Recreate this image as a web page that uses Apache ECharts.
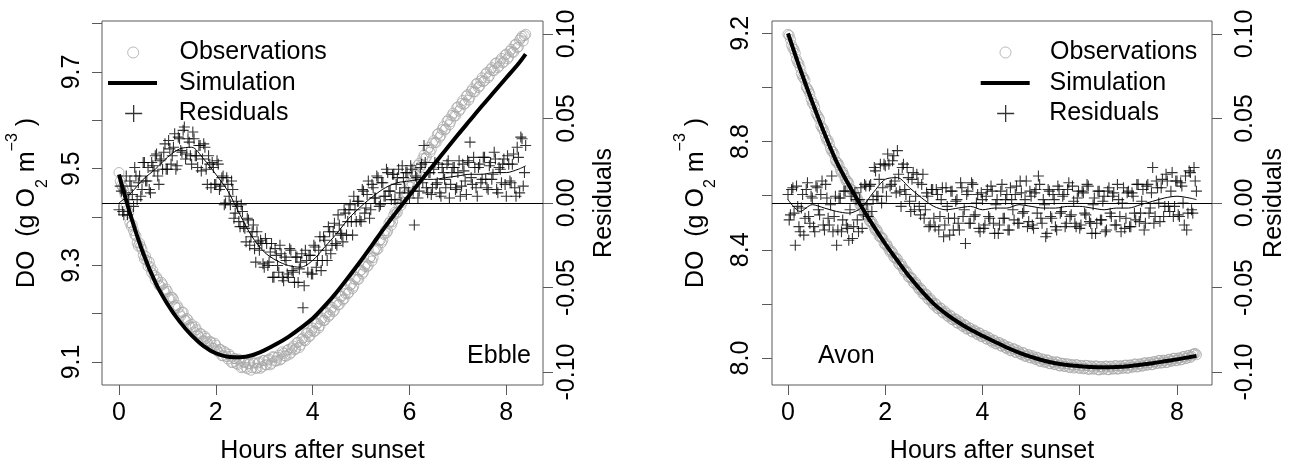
<!DOCTYPE html>
<html><head><meta charset="utf-8">
<script src="https://cdn.jsdelivr.net/npm/echarts@6/dist/echarts.min.js"></script>
<style>html,body{margin:0;padding:0;background:#fff}#c{width:1301px;height:468px}</style>
</head><body><div id="c"></div>
<script>
// ---------- data ----------
const hours = [0,0.05,0.1,0.15,0.2,0.25,0.3,0.35,0.4,0.45,0.5,0.55,0.6,0.65,0.7,0.75,0.8,0.85,0.9,0.95,
1,1.05,1.1,1.15,1.2,1.25,1.3,1.35,1.4,1.45,1.5,1.55,1.6,1.65,1.7,1.75,1.8,1.85,1.9,1.95,
2,2.05,2.1,2.15,2.2,2.25,2.3,2.35,2.4,2.45,2.5,2.55,2.6,2.65,2.7,2.75,2.8,2.85,2.9,2.95,
3,3.05,3.1,3.15,3.2,3.25,3.3,3.35,3.4,3.45,3.5,3.55,3.6,3.65,3.7,3.75,3.8,3.85,3.9,3.95,
4,4.05,4.1,4.15,4.2,4.25,4.3,4.35,4.4,4.45,4.5,4.55,4.6,4.65,4.7,4.75,4.8,4.85,4.9,4.95,
5,5.05,5.1,5.15,5.2,5.25,5.3,5.35,5.4,5.45,5.5,5.55,5.6,5.65,5.7,5.75,5.8,5.85,5.9,5.95,
6,6.05,6.1,6.15,6.2,6.25,6.3,6.35,6.4,6.45,6.5,6.55,6.6,6.65,6.7,6.75,6.8,6.85,6.9,6.95,
7,7.05,7.1,7.15,7.2,7.25,7.3,7.35,7.4,7.45,7.5,7.55,7.6,7.65,7.7,7.75,7.8,7.85,7.9,7.95,
8,8.05,8.1,8.15,8.2,8.25,8.3,8.35,8.4];

const hours2 = [0.025,0.075,0.125,0.175,0.225,0.275,0.325,0.375,0.425,0.475,0.525,0.575,0.625,0.675,0.725,0.775,0.825,0.875,0.925,0.975,
1.025,1.075,1.125,1.175,1.225,1.275,1.325,1.375,1.425,1.475,1.525,1.575,1.625,1.675,1.725,1.775,1.825,1.875,1.925,1.975,
2.025,2.075,2.125,2.175,2.225,2.275,2.325,2.375,2.425,2.475,2.525,2.575,2.625,2.675,2.725,2.775,2.825,2.875,2.925,2.975,
3.025,3.075,3.125,3.175,3.225,3.275,3.325,3.375,3.425,3.475,3.525,3.575,3.625,3.675,3.725,3.775,3.825,3.875,3.925,3.975,
4.025,4.075,4.125,4.175,4.225,4.275,4.325,4.375,4.425,4.475,4.525,4.575,4.625,4.675,4.725,4.775,4.825,4.875,4.925,4.975,
5.025,5.075,5.125,5.175,5.225,5.275,5.325,5.375,5.425,5.475,5.525,5.575,5.625,5.675,5.725,5.775,5.825,5.875,5.925,5.975,
6.025,6.075,6.125,6.175,6.225,6.275,6.325,6.375,6.425,6.475,6.525,6.575,6.625,6.675,6.725,6.775,6.825,6.875,6.925,6.975,
7.025,7.075,7.125,7.175,7.225,7.275,7.325,7.375,7.425,7.475,7.525,7.575,7.625,7.675,7.725,7.775,7.825,7.875,7.925,7.975,
8.025,8.075,8.125,8.175,8.225,8.275,8.325,8.375];

const ebbleObs = [9.492,9.466,9.455,9.423,9.409,9.381,9.372,9.361,9.340,9.339,
9.321,9.319,9.298,9.297,9.289,9.270,9.271,9.257,9.260,9.244,
9.246,9.231,9.234,9.216,9.217,9.200,9.203,9.187,9.190,9.175,
9.178,9.162,9.167,9.153,9.158,9.144,9.149,9.136,9.141,9.128,
9.135,9.121,9.126,9.113,9.119,9.106,9.112,9.099,9.107,9.095,
9.102,9.090,9.099,9.086,9.097,9.088,9.098,9.087,9.100,9.090,
9.103,9.094,9.106,9.097,9.110,9.102,9.114,9.106,9.118,9.112,
9.126,9.119,9.133,9.127,9.141,9.135,9.150,9.144,9.160,9.155,
9.170,9.164,9.180,9.175,9.191,9.186,9.202,9.197,9.213,9.207,
9.224,9.219,9.236,9.231,9.249,9.244,9.261,9.257,9.275,9.271,
9.290,9.286,9.303,9.300,9.318,9.316,9.335,9.334,9.353,9.352,
9.372,9.371,9.391,9.390,9.410,9.410,9.430,9.430,9.451,9.449,
9.470,9.470,9.491,9.490,9.511,9.508,9.528,9.524,9.544,9.540,
9.558,9.554,9.573,9.569,9.587,9.582,9.601,9.597,9.615,9.609,
9.628,9.623,9.641,9.635,9.653,9.648,9.665,9.659,9.677,9.671,
9.688,9.682,9.699,9.692,9.709,9.703,9.719,9.712,9.728,9.721,
9.737,9.731,9.747,9.741,9.758,9.752,9.770,9.764,9.778];

const ebbleObs2 = [9.474,9.462,9.446,9.413,9.388,9.384,9.364,9.347,9.346,9.333,
9.313,9.310,9.307,9.285,9.279,9.276,9.259,9.265,9.249,9.251,
9.231,9.234,9.230,9.213,9.212,9.195,9.203,9.186,9.187,9.171,
9.172,9.173,9.156,9.159,9.143,9.153,9.140,9.143,9.129,9.139,
9.124,9.126,9.113,9.122,9.111,9.116,9.099,9.107,9.097,9.106,
9.088,9.100,9.089,9.096,9.083,9.098,9.087,9.098,9.087,9.103,
9.094,9.104,9.094,9.111,9.102,9.110,9.104,9.121,9.113,9.124,
9.116,9.129,9.125,9.140,9.130,9.147,9.145,9.160,9.152,9.165,
9.163,9.179,9.170,9.187,9.186,9.201,9.194,9.208,9.204,9.221,
9.218,9.236,9.228,9.242,9.241,9.259,9.252,9.271,9.271,9.288,
9.282,9.298,9.297,9.315,9.309,9.330,9.332,9.351,9.347,9.364,
9.367,9.387,9.383,9.404,9.407,9.427,9.424,9.443,9.445,9.466,
9.462,9.485,9.488,9.507,9.503,9.521,9.521,9.540,9.534,9.553,
9.554,9.571,9.565,9.581,9.580,9.598,9.591,9.610,9.609,9.626,
9.619,9.635,9.633,9.650,9.642,9.660,9.659,9.675,9.668,9.682,
9.680,9.696,9.688,9.705,9.703,9.718,9.709,9.723,9.719,9.735,
9.727,9.743,9.741,9.756,9.750,9.766,9.774,9.775];

const ebbleRes = [-0.004,0.007,-0.007,0.016,0.002,0.010,-0.002,0.016,0.012,0.004,
0.024,0.013,0.021,0.006,0.022,0.028,0.016,0.025,0.020,0.035,
0.020,0.032,0.028,0.041,0.022,0.038,0.030,0.045,0.029,0.036,
0.023,0.038,0.028,0.034,0.019,0.035,0.020,0.028,0.009,0.021,
0.011,0.023,0.010,0.016,0.000,0.011,-0.001,0.008,-0.006,-0.002,
-0.014,-0.005,-0.015,-0.009,-0.025,-0.017,-0.027,-0.017,-0.028,-0.024,
-0.038,-0.024,-0.035,-0.024,-0.044,-0.031,-0.041,-0.030,-0.046,-0.034,
-0.044,-0.028,-0.041,-0.032,-0.047,-0.035,-0.062,-0.028,-0.041,-0.031,
-0.042,-0.026,-0.034,-0.020,-0.034,-0.022,-0.034,-0.017,-0.025,-0.012,
-0.025,-0.013,-0.019,-0.004,-0.019,-0.004,-0.011,0.004,-0.011,0.001,
-0.011,0.007,-0.003,0.013,-0.004,0.009,0.003,0.015,-0.001,0.012,
0.004,0.018,0.007,0.017,0.002,0.015,0.006,0.022,0.009,0.018,
0.003,0.020,-0.013,0.015,0.007,0.023,0.034,0.009,0.018,0.005,
0.020,0.011,0.023,0.004,0.018,0.009,0.025,0.011,0.021,0.008,
0.018,0.004,0.023,0.013,0.025,0.036,0.011,0.021,0.004,0.023,
0.014,0.027,0.009,0.022,0.014,0.030,0.008,0.021,0.012,0.026,
0.004,0.023,0.012,0.029,0.004,0.027,0.039,0.010,0.034];

const ebbleRes2 = [0.010,-0.005,0.006,-0.007,0.013,0.005,0.021,0.002,0.016,0.008,
0.024,0.013,0.008,0.024,0.019,0.029,0.011,0.026,0.030,0.020,
0.037,0.023,0.033,0.020,0.039,0.031,0.043,0.026,0.038,0.028,
0.042,0.028,0.021,0.034,0.026,0.033,0.011,0.023,0.024,0.011,
0.025,0.008,0.015,-0.001,0.015,0.004,0.013,-0.009,0.001,-0.011,
-0.001,-0.014,-0.023,-0.010,-0.020,-0.013,-0.035,-0.023,-0.022,-0.036,
-0.021,-0.037,-0.029,-0.044,-0.027,-0.037,-0.025,-0.044,-0.032,-0.042,
-0.027,-0.040,-0.047,-0.032,-0.039,-0.030,-0.049,-0.034,-0.031,-0.042,
-0.025,-0.038,-0.028,-0.040,-0.020,-0.028,-0.014,-0.030,-0.017,-0.024,
-0.007,-0.018,-0.023,-0.006,-0.011,-0.001,-0.019,-0.004,0.001,-0.010,
0.008,-0.006,0.005,-0.009,0.011,0.003,0.016,-0.002,0.012,0.004,
0.020,0.007,0.002,0.017,0.011,0.020,0.000,0.015,0.018,0.006,
0.022,0.007,0.016,0.003,0.021,0.012,0.024,0.006,0.018,0.009,
0.024,0.012,0.006,0.021,0.014,0.023,0.003,0.018,0.021,0.009,
0.025,0.010,0.019,0.005,0.024,0.015,0.027,0.009,0.021,0.012,
0.027,0.014,0.008,0.024,0.017,0.026,0.006,0.020,0.023,0.011,
0.028,0.013,0.023,0.009,0.033,0.006,0.038,0.018];

const avonObs = [9.196,9.177,9.144,9.126,9.092,9.073,9.039,9.026,8.995,8.976,
8.942,8.927,8.897,8.882,8.849,8.833,8.804,8.792,8.764,8.752,
8.723,8.712,8.686,8.677,8.653,8.646,8.622,8.613,8.589,8.581,
8.561,8.554,8.530,8.524,8.502,8.494,8.471,8.466,8.447,8.442,
8.418,8.413,8.392,8.389,8.369,8.366,8.344,8.339,8.319,8.316,
8.298,8.294,8.275,8.271,8.253,8.251,8.235,8.234,8.215,8.212,
8.195,8.197,8.182,8.183,8.166,8.166,8.152,8.155,8.141,8.144,
8.128,8.130,8.116,8.120,8.108,8.110,8.096,8.099,8.086,8.091,
8.079,8.083,8.069,8.072,8.058,8.064,8.053,8.057,8.043,8.046,
8.034,8.039,8.028,8.034,8.020,8.023,8.012,8.018,8.007,8.012,
8.000,8.004,7.994,8.000,7.988,7.994,7.985,7.992,7.979,7.985,
7.976,7.984,7.971,7.980,7.969,7.978,7.965,7.974,7.966,7.974,
7.962,7.971,7.962,7.972,7.959,7.969,7.960,7.970,7.956,7.968,
7.960,7.970,7.957,7.969,7.960,7.971,7.960,7.971,7.963,7.974,
7.963,7.974,7.967,7.977,7.968,7.978,7.971,7.982,7.975,7.983,
7.976,7.986,7.981,7.991,7.983,7.991,7.984,7.995,7.989,7.999,
7.991,8.000,7.994,8.006,7.999,8.010,8.007,8.015,8.012];

const avonObs2 = [9.192,9.156,9.140,9.104,9.088,9.051,9.035,9.001,8.987,8.956,
8.940,8.906,8.891,8.859,8.847,8.817,8.805,8.774,8.762,8.730,
8.721,8.695,8.689,8.663,8.654,8.627,8.621,8.597,8.592,8.568,
8.561,8.535,8.531,8.507,8.504,8.480,8.475,8.450,8.447,8.424,
8.422,8.401,8.396,8.373,8.370,8.349,8.348,8.327,8.323,8.300,
8.299,8.279,8.280,8.260,8.258,8.237,8.237,8.219,8.220,8.202,
8.202,8.183,8.186,8.169,8.173,8.157,8.159,8.142,8.145,8.130,
8.136,8.121,8.124,8.107,8.112,8.098,8.104,8.091,8.094,8.079,
8.084,8.071,8.077,8.064,8.067,8.052,8.058,8.045,8.051,8.038,
8.042,8.027,8.034,8.021,8.028,8.016,8.021,8.006,8.013,8.001,
8.009,7.997,8.003,7.988,7.997,7.984,7.993,7.979,7.987,7.976,
7.986,7.971,7.981,7.969,7.979,7.966,7.976,7.963,7.976,7.963,
7.973,7.960,7.973,7.958,7.971,7.959,7.971,7.957,7.969,7.958,
7.970,7.957,7.970,7.959,7.972,7.959,7.971,7.962,7.973,7.962,
7.974,7.966,7.978,7.967,7.978,7.970,7.982,7.973,7.984,7.975,
7.987,7.979,7.991,7.981,7.992,7.983,7.995,7.988,7.999,7.990,
8.000,7.993,8.005,7.998,8.009,8.002,8.014,8.017];

const avonRes = [0.005,-0.007,0.009,-0.025,-0.002,-0.017,0.005,-0.009,0.012,-0.012,
0.003,-0.017,0.009,-0.007,0.013,-0.016,0.003,-0.013,0.016,-0.008,
-0.025,0.003,-0.017,0.007,-0.013,-0.022,0.004,-0.014,0.002,-0.017,
0.009,-0.007,0.010,-0.008,0.011,0.002,0.019,0.004,0.023,0.009,
0.022,0.029,0.010,0.025,0.013,0.031,0.007,0.021,0.008,0.021,
0.001,0.014,-0.004,0.017,-0.002,0.011,-0.009,0.006,-0.014,0.008,
-0.009,0.008,-0.016,0.002,-0.020,0.009,-0.009,0.007,-0.016,0.001,
-0.012,0.012,-0.008,-0.024,0.007,-0.012,0.011,-0.007,0.005,-0.017,
0.002,-0.013,0.008,-0.009,0.007,-0.018,0.002,-0.013,0.011,-0.009,
0.005,-0.016,0.002,-0.010,0.010,-0.012,0.006,-0.005,0.013,-0.011,
0.004,-0.015,0.008,0.016,-0.009,0.002,-0.020,0.008,-0.008,0.005,
-0.014,0.010,-0.006,0.004,-0.014,0.008,-0.008,0.010,-0.012,0.003,
-0.015,0.007,-0.006,0.011,-0.011,-0.018,0.003,-0.012,0.007,-0.010,
0.004,-0.016,0.009,-0.008,0.006,-0.013,0.002,-0.017,0.009,-0.009,
0.007,-0.014,0.004,-0.010,0.011,-0.006,0.008,-0.012,0.011,-0.003,
0.021,-0.008,0.009,-0.011,0.014,-0.002,0.013,-0.005,0.018,-0.002,
0.013,-0.008,0.010,-0.013,-0.016,0.019,-0.004,0.021,0.007];

const avonRes2 = [-0.010,0.008,-0.006,0.010,-0.014,-0.003,-0.019,0.008,-0.008,0.004,
-0.014,0.010,-0.004,0.005,-0.013,0.011,-0.009,-0.001,-0.017,0.004,
-0.016,0.003,-0.010,0.007,-0.015,-0.004,-0.021,0.006,-0.010,0.002,
-0.015,0.011,-0.001,0.010,-0.005,0.021,0.004,0.014,0.000,0.023,
0.004,0.023,0.011,0.028,0.006,0.017,-0.002,0.023,0.005,0.015,
-0.005,0.018,0.004,0.012,-0.007,0.017,-0.004,0.004,-0.013,0.008,
-0.014,0.005,-0.008,0.009,-0.013,-0.002,-0.019,0.007,-0.009,0.002,
-0.016,0.009,-0.004,0.005,-0.012,0.012,-0.008,0.000,-0.015,0.006,
-0.015,0.004,-0.008,0.010,-0.012,-0.001,-0.018,0.007,-0.009,0.002,
-0.016,0.009,-0.004,0.005,-0.012,0.013,-0.006,0.002,-0.014,0.007,
-0.013,0.006,-0.006,0.011,-0.012,-0.001,-0.018,0.007,-0.009,0.002,
-0.016,0.008,-0.005,0.005,-0.012,0.012,-0.007,0.001,-0.014,0.007,
-0.013,0.006,-0.007,0.010,-0.012,-0.001,-0.018,0.007,-0.010,0.001,
-0.017,0.007,-0.006,0.004,-0.013,0.011,-0.008,0.000,-0.015,0.006,
-0.014,0.006,-0.006,0.011,-0.011,0.001,-0.016,0.010,-0.006,0.006,
-0.012,0.013,0.000,0.009,-0.008,0.017,-0.002,0.007,-0.008,0.013,
-0.007,0.012,0.000,0.016,-0.006,0.018,-0.006,0.013];

const simHours = [0,0.25,0.5,0.75,1,1.25,1.5,1.75,2,2.25,2.5,2.75,3,3.25,3.5,3.75,4,4.25,4.5,4.75,5,5.25,5.5,5.75,6,6.25,6.5,6.75,7,7.25,7.5,7.75,8,8.25,8.4];
const ebbleSim = [9.488,9.400,9.325,9.265,9.220,9.184,9.155,9.133,9.118,9.111,9.110,9.114,9.124,9.137,9.152,9.170,9.190,9.216,9.245,9.277,9.310,9.345,9.380,9.413,9.445,9.477,9.508,9.539,9.570,9.600,9.630,9.659,9.688,9.717,9.737];
const avonSim = [9.200,9.068,8.945,8.830,8.725,8.640,8.563,8.490,8.422,8.360,8.300,8.247,8.200,8.163,8.132,8.105,8.082,8.060,8.039,8.020,8.004,7.991,7.981,7.974,7.970,7.967,7.966,7.967,7.970,7.975,7.981,7.988,7.995,8.003,8.008];
const ebbleTrend = [0.000,0.006,0.014,0.020,0.027,0.032,0.033,0.026,0.017,0.007,-0.007,-0.020,-0.029,-0.034,-0.037,-0.038,-0.034,-0.026,-0.018,-0.009,-0.002,0.004,0.009,0.012,0.013,0.014,0.014,0.015,0.016,0.017,0.017,0.018,0.018,0.020,0.022];
const avonTrend = [0.002,-0.005,-0.001,-0.003,-0.005,-0.006,-0.003,0.006,0.014,0.015,0.009,0.003,-0.002,-0.004,-0.003,-0.002,-0.004,-0.003,-0.003,-0.001,-0.002,-0.003,-0.003,-0.002,-0.002,-0.003,-0.004,-0.003,-0.003,-0.001,0.001,0.003,0.004,0.003,0.002];

const xTicks = [0,2,4,6,8];
const ebbleDoTicks = [9.1,9.2,9.3,9.4,9.5,9.6,9.7,9.8];
const ebbleDoLabels = [9.1,9.3,9.5,9.7];
const avonDoTicks = [8.0,8.2,8.4,8.6,8.8,9.0,9.2];
const avonDoLabels = [8.0,8.4,8.8,9.2];
const resTicks = [-0.1,-0.05,0,0.05,0.1];
const panelNames = ['Ebble','Avon'];

// ---------- styling ----------
const FONT = 'Liberation Sans, Arial, Helvetica, sans-serif';
const BOX = '#5a5a5a';
const GREY = '#a8a8a8';
const PLUS = 'path://M5,0L5,10M0,5L10,5';
const pairs = (xs, ys) => xs.map((x, i) => [x, ys[i]]);

const doName = '{a|DO  (g O}{sub|2}{a| m}{sup|\u22123}{a| )}';
const doRich = {
  a: {fontSize: 25, lineHeight: 46, verticalAlign: 'middle', fontFamily: FONT, color: '#000'},
  sub: {fontSize: 16, lineHeight: 30, verticalAlign: 'bottom', fontFamily: FONT, color: '#000'},
  sup: {fontSize: 16, lineHeight: 16, verticalAlign: 'top', fontFamily: FONT, color: '#000'}
};

function xAxisCfg(grid, min, max) {
  return {
    gridIndex: grid, type: 'value', min: min, max: max,
    axisLine: {show: false, onZero: false},
    axisTick: {show: true, length: 10, lineStyle: {color: BOX, width: 1}, customValues: xTicks},
    axisLabel: {customValues: xTicks, margin: 15.5, fontSize: 25, color: '#000', fontFamily: FONT},
    splitLine: {show: false},
    name: 'Hours after sunset', nameLocation: 'middle', nameGap: 53.5,
    nameTextStyle: {fontSize: 25, color: '#000', fontFamily: FONT}
  };
}
function yAxisCfg(grid, pos, min, max, ticks, labels, dec, margin, name, nameGap, rich) {
  return {
    gridIndex: grid, type: 'value', position: pos, min: min, max: max,
    axisLine: {show: false, onZero: false},
    axisTick: {show: true, length: 10, lineStyle: {color: BOX, width: 1}, customValues: ticks},
    axisLabel: {customValues: labels, rotate: 90, margin: margin, fontSize: 25, color: '#000', fontFamily: FONT,
                formatter: v => Number(v).toFixed(dec)},
    splitLine: {show: false},
    name: name, nameLocation: 'middle', nameRotate: 90, nameGap: nameGap,
    nameTextStyle: Object.assign({fontSize: 25, color: '#000', fontFamily: FONT}, rich ? {rich: rich} : {})
  };
}
function panelSeries(p, obs, obs2, sim, res, res2, trend) {
  return [
    {type: 'scatter', name: 'Observations', xAxisIndex: p, yAxisIndex: 2 * p,
     data: pairs(hours, obs).concat(pairs(hours2, obs2)),
     symbol: 'circle', symbolSize: 10, silent: true,
     itemStyle: {color: 'rgba(0,0,0,0)', borderColor: GREY, borderWidth: 1}},
    {type: 'line', name: 'Simulation', xAxisIndex: p, yAxisIndex: 2 * p, data: pairs(simHours, sim),
     symbol: 'none', showSymbol: false, smooth: 0.3, silent: true,
     lineStyle: {color: '#000', width: 4}, itemStyle: {color: '#000'}},
    {type: 'scatter', name: 'Residuals', xAxisIndex: p, yAxisIndex: 2 * p + 1,
     data: pairs(hours, res).concat(pairs(hours2, res2)),
     symbol: PLUS, symbolSize: 11, symbolKeepAspect: true, silent: true,
     itemStyle: {color: 'rgba(0,0,0,0)', borderColor: '#000', borderWidth: 1.1}},
    {type: 'line', name: 'Residual trend', xAxisIndex: p, yAxisIndex: 2 * p + 1, data: pairs(simHours, trend),
     symbol: 'none', showSymbol: false, smooth: 0.3, silent: true,
     lineStyle: {color: '#000', width: 1}, itemStyle: {color: '#000'},
     markLine: {silent: true, symbol: 'none', animation: false, label: {show: false},
                lineStyle: {color: '#000', width: 1, type: 'solid'}, emphasis: {disabled: true},
                data: [{yAxis: 0}]}}
  ];
}
function legendCfg(left, top, name, iw, ih, icon, style, pad) {
  return {
    orient: 'vertical', left: left, top: top, padding: 0, itemWidth: iw, itemHeight: ih,
    selectedMode: false, symbolKeepAspect: true,
    textStyle: {fontSize: 25, color: '#000', fontFamily: FONT, padding: [0, 0, 0, pad]},
    data: [{name: name, icon: icon, itemStyle: style}]
  };
}
const obsLegStyle = {color: 'rgba(0,0,0,0)', borderColor: GREY, borderWidth: 1};
const simLegStyle = {color: '#000', borderWidth: 0};
const resLegStyle = {color: 'rgba(0,0,0,0)', borderColor: '#000', borderWidth: 1.3};

const option = {
  animation: false,
  backgroundColor: '#fff',
  textStyle: {fontFamily: FONT},
  grid: [
    {left: 102, top: 21, width: 441, height: 364, show: true, borderColor: BOX, borderWidth: 1,
     backgroundColor: 'rgba(0,0,0,0)', containLabel: false, outerBoundsMode: 'none'},
    {left: 772, top: 21, width: 440, height: 364, show: true, borderColor: BOX, borderWidth: 1,
     backgroundColor: 'rgba(0,0,0,0)', containLabel: false, outerBoundsMode: 'none'}
  ],
  xAxis: [xAxisCfg(0, -0.351, 8.758), xAxisCfg(1, -0.329, 8.72)],
  yAxis: [
    yAxisCfg(0, 'left', 9.0524, 9.8055, ebbleDoTicks, ebbleDoLabels, 1, 17.5, doName, 51.5, doRich),
    yAxisCfg(0, 'right', -0.1077, 0.1077, resTicks, resTicks, 2, 12, 'Residuals', 48.5, null),
    yAxisCfg(1, 'left', 7.9003, 9.2454, avonDoTicks, avonDoLabels, 1, 18.5, doName, 53, doRich),
    yAxisCfg(1, 'right', -0.1077, 0.1077, resTicks, resTicks, 2, 21, 'Residuals', 50, null)
  ],
  legend: [
    legendCfg(127.2, 40, 'Observations', 49, 11, 'circle', obsLegStyle, 16.8),
    legendCfg(108, 70.5, 'Simulation', 49, 4, 'rect', simLegStyle, 17),
    legendCfg(124.5, 101, 'Residuals', 49, 17, PLUS, resLegStyle, 15.5),
    legendCfg(999.5, 40, 'Observations', 49, 11, 'circle', obsLegStyle, 15),
    legendCfg(980.7, 70.5, 'Simulation', 49, 4, 'rect', simLegStyle, 14.8),
    legendCfg(996.5, 101, 'Residuals', 49, 17, PLUS, resLegStyle, 14)
  ],
  title: [
    {text: panelNames[0], right: 770, top: 343.5, padding: 0,
     textStyle: {fontSize: 25, fontWeight: 'normal', color: '#000', fontFamily: FONT}},
    {text: panelNames[1], left: 818, top: 343.5, padding: 0,
     textStyle: {fontSize: 25, fontWeight: 'normal', color: '#000', fontFamily: FONT}}
  ],
  series: [].concat(
    panelSeries(0, ebbleObs, ebbleObs2, ebbleSim, ebbleRes, ebbleRes2, ebbleTrend),
    panelSeries(1, avonObs, avonObs2, avonSim, avonRes, avonRes2, avonTrend)
  )
};
const chart = echarts.init(document.getElementById('c'), null, {renderer: 'canvas'});
chart.setOption(option);
</script>
</body></html>
